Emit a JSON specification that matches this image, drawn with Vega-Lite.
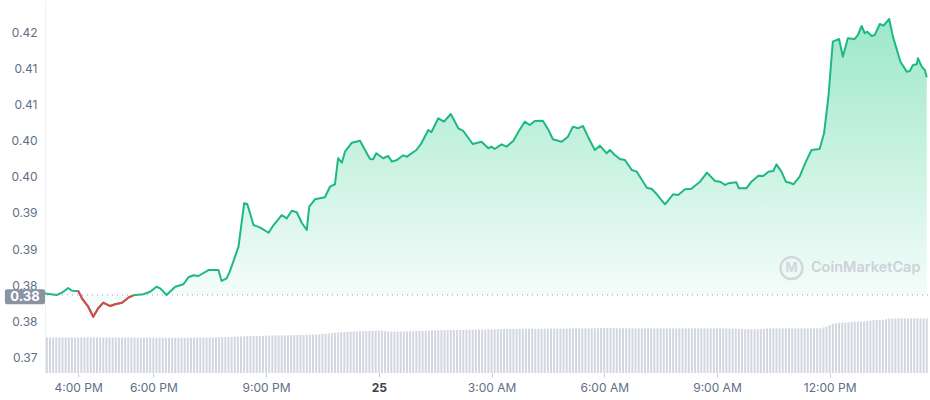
{
  "$schema": "https://vega.github.io/schema/vega-lite/v6.json",
  "width": 883,
  "height": 373,
  "autosize": "none",
  "padding": {"left": 45, "right": 2, "top": 0, "bottom": 27},
  "background": "#ffffff",
  "config": {"view": {"stroke": null}, "font": "Inter"},
  "datasets": {
    "price": [
      {"t":"2022-01-24T15:07","p":0.38132},{"t":"2022-01-24T15:26","p":0.38111},{"t":"2022-01-24T15:34","p":0.38143},{"t":"2022-01-24T15:44","p":0.38208},{"t":"2022-01-24T15:50","p":0.38171},
      {"t":"2022-01-24T16:00","p":0.38167},{"t":"2022-01-24T16:06","p":0.38065},{"t":"2022-01-24T16:16","p":0.37949},{"t":"2022-01-24T16:24","p":0.37810},{"t":"2022-01-24T16:32","p":0.37926},
      {"t":"2022-01-24T16:40","p":0.38004},{"t":"2022-01-24T16:51","p":0.37958},{"t":"2022-01-24T16:59","p":0.37982},{"t":"2022-01-24T17:10","p":0.38004},{"t":"2022-01-24T17:20","p":0.38074},
      {"t":"2022-01-24T17:28","p":0.38107},{"t":"2022-01-24T17:44","p":0.38121},{"t":"2022-01-24T17:55","p":0.38157},{"t":"2022-01-24T18:05","p":0.38226},{"t":"2022-01-24T18:11","p":0.38204},
      {"t":"2022-01-24T18:21","p":0.38111},{"t":"2022-01-24T18:35","p":0.38226},{"t":"2022-01-24T18:48","p":0.38260},{"t":"2022-01-24T18:56","p":0.38357},{"t":"2022-01-24T19:04","p":0.38385},
      {"t":"2022-01-24T19:12","p":0.38375},{"t":"2022-01-24T19:28","p":0.38458},{"t":"2022-01-24T19:44","p":0.38458},{"t":"2022-01-24T19:49","p":0.38306},{"t":"2022-01-24T19:57","p":0.38343},
      {"t":"2022-01-24T20:02","p":0.38435},{"t":"2022-01-24T20:16","p":0.38782},{"t":"2022-01-24T20:25","p":0.39385},{"t":"2022-01-24T20:30","p":0.39375},{"t":"2022-01-24T20:40","p":0.39083},
      {"t":"2022-01-24T20:50","p":0.39051},{"t":"2022-01-24T21:04","p":0.38976},{"t":"2022-01-24T21:12","p":0.39083},{"t":"2022-01-24T21:25","p":0.39222},{"t":"2022-01-24T21:33","p":0.39176},
      {"t":"2022-01-24T21:41","p":0.39282},{"t":"2022-01-24T21:49","p":0.39260},{"t":"2022-01-24T21:57","p":0.39115},{"t":"2022-01-24T22:05","p":0.39014},{"t":"2022-01-24T22:09","p":0.39338},
      {"t":"2022-01-24T22:18","p":0.39440},{"t":"2022-01-24T22:34","p":0.39468},{"t":"2022-01-24T22:42","p":0.39615},{"t":"2022-01-24T22:50","p":0.39649},{"t":"2022-01-24T22:55","p":0.40010},
      {"t":"2022-01-24T23:01","p":0.39949},{"t":"2022-01-24T23:06","p":0.40101},{"t":"2022-01-24T23:17","p":0.40226},{"t":"2022-01-24T23:30","p":0.40254},{"t":"2022-01-24T23:38","p":0.40125},
      {"t":"2022-01-24T23:46","p":0.40000},{"t":"2022-01-24T23:51","p":0.39996},{"t":"2022-01-24T23:56","p":0.40079},{"t":"2022-01-25T00:07","p":0.40010},{"t":"2022-01-25T00:15","p":0.40042},
      {"t":"2022-01-25T00:21","p":0.39963},{"t":"2022-01-25T00:29","p":0.39986},{"t":"2022-01-25T00:39","p":0.40051},{"t":"2022-01-25T00:45","p":0.40032},{"t":"2022-01-25T01:00","p":0.40125},
      {"t":"2022-01-25T01:08","p":0.40218},{"t":"2022-01-25T01:19","p":0.40403},{"t":"2022-01-25T01:24","p":0.40371},{"t":"2022-01-25T01:35","p":0.40565},{"t":"2022-01-25T01:44","p":0.40518},
      {"t":"2022-01-25T01:55","p":0.40625},{"t":"2022-01-25T02:07","p":0.40426},{"t":"2022-01-25T02:15","p":0.40389},{"t":"2022-01-25T02:30","p":0.40208},{"t":"2022-01-25T02:44","p":0.40240},
      {"t":"2022-01-25T02:55","p":0.40149},{"t":"2022-01-25T03:00","p":0.40171},{"t":"2022-01-25T03:05","p":0.40139},{"t":"2022-01-25T03:16","p":0.40204},{"t":"2022-01-25T03:24","p":0.40171},
      {"t":"2022-01-25T03:35","p":0.40254},{"t":"2022-01-25T03:43","p":0.40379},{"t":"2022-01-25T03:53","p":0.40518},{"t":"2022-01-25T04:01","p":0.40472},{"t":"2022-01-25T04:09","p":0.40528},
      {"t":"2022-01-25T04:22","p":0.40532},{"t":"2022-01-25T04:31","p":0.40403},{"t":"2022-01-25T04:38","p":0.40274},{"t":"2022-01-25T04:52","p":0.40240},{"t":"2022-01-25T05:02","p":0.40310},
      {"t":"2022-01-25T05:10","p":0.40449},{"t":"2022-01-25T05:18","p":0.40426},{"t":"2022-01-25T05:26","p":0.40458},{"t":"2022-01-25T05:34","p":0.40310},{"t":"2022-01-25T05:45","p":0.40125},
      {"t":"2022-01-25T05:53","p":0.40185},{"t":"2022-01-25T06:04","p":0.40079},{"t":"2022-01-25T06:09","p":0.40125},{"t":"2022-01-25T06:17","p":0.40056},{"t":"2022-01-25T06:25","p":0.40000},
      {"t":"2022-01-25T06:33","p":0.39986},{"t":"2022-01-25T06:44","p":0.39847},{"t":"2022-01-25T06:52","p":0.39824},{"t":"2022-01-25T07:08","p":0.39601},{"t":"2022-01-25T07:16","p":0.39583},
      {"t":"2022-01-25T07:24","p":0.39510},{"t":"2022-01-25T07:37","p":0.39371},{"t":"2022-01-25T07:50","p":0.39510},{"t":"2022-01-25T07:58","p":0.39500},{"t":"2022-01-25T08:09","p":0.39579},
      {"t":"2022-01-25T08:19","p":0.39588},{"t":"2022-01-25T08:33","p":0.39685},{"t":"2022-01-25T08:44","p":0.39810},{"t":"2022-01-25T08:57","p":0.39694},{"t":"2022-01-25T09:05","p":0.39685},
      {"t":"2022-01-25T09:13","p":0.39639},{"t":"2022-01-25T09:18","p":0.39663},{"t":"2022-01-25T09:31","p":0.39676},{"t":"2022-01-25T09:35","p":0.39593},{"t":"2022-01-25T09:47","p":0.39593},
      {"t":"2022-01-25T09:55","p":0.39685},{"t":"2022-01-25T10:06","p":0.39768},{"t":"2022-01-25T10:14","p":0.39764},{"t":"2022-01-25T10:22","p":0.39824},{"t":"2022-01-25T10:30","p":0.39833},
      {"t":"2022-01-25T10:35","p":0.39926},{"t":"2022-01-25T10:43","p":0.39824},{"t":"2022-01-25T10:50","p":0.39685},{"t":"2022-01-25T10:56","p":0.39671},{"t":"2022-01-25T11:02","p":0.39649},
      {"t":"2022-01-25T11:12","p":0.39754},{"t":"2022-01-25T11:22","p":0.39963},{"t":"2022-01-25T11:31","p":0.40125},{"t":"2022-01-25T11:44","p":0.40139},{"t":"2022-01-25T11:51","p":0.40357},
      {"t":"2022-01-25T11:58","p":0.40865},{"t":"2022-01-25T12:05","p":0.41629},{"t":"2022-01-25T12:15","p":0.41667},{"t":"2022-01-25T12:21","p":0.41421},{"t":"2022-01-25T12:29","p":0.41676},
      {"t":"2022-01-25T12:40","p":0.41667},{"t":"2022-01-25T12:45","p":0.41722},{"t":"2022-01-25T12:51","p":0.41847},{"t":"2022-01-25T12:56","p":0.41746},{"t":"2022-01-25T13:00","p":0.41768},
      {"t":"2022-01-25T13:07","p":0.41708},{"t":"2022-01-25T13:12","p":0.41722},{"t":"2022-01-25T13:20","p":0.41875},{"t":"2022-01-25T13:26","p":0.41851},{"t":"2022-01-25T13:35","p":0.41944},
      {"t":"2022-01-25T13:41","p":0.41699},{"t":"2022-01-25T13:53","p":0.41351},{"t":"2022-01-25T14:03","p":0.41213},{"t":"2022-01-25T14:08","p":0.41222},{"t":"2022-01-25T14:13","p":0.41306},
      {"t":"2022-01-25T14:19","p":0.41315},{"t":"2022-01-25T14:21","p":0.41399},{"t":"2022-01-25T14:27","p":0.41282},{"t":"2022-01-25T14:32","p":0.41236},{"t":"2022-01-25T14:35","p":0.41135}
    ],
    "vol": [
      {"t":"2022-01-24T15:10","v":35.6},{"t":"2022-01-24T15:15","v":35.6},{"t":"2022-01-24T15:20","v":35.5},{"t":"2022-01-24T15:25","v":35.5},{"t":"2022-01-24T15:30","v":35.6},{"t":"2022-01-24T15:35","v":35.6},{"t":"2022-01-24T15:40","v":35.7},{"t":"2022-01-24T15:45","v":35.6},{"t":"2022-01-24T15:50","v":35.5},{"t":"2022-01-24T15:55","v":35.5},
      {"t":"2022-01-24T16:00","v":35.4},{"t":"2022-01-24T16:05","v":35.5},{"t":"2022-01-24T16:10","v":35.5},{"t":"2022-01-24T16:15","v":35.6},{"t":"2022-01-24T16:20","v":35.6},{"t":"2022-01-24T16:25","v":35.5},{"t":"2022-01-24T16:30","v":35.5},{"t":"2022-01-24T16:35","v":35.4},{"t":"2022-01-24T16:40","v":35.5},{"t":"2022-01-24T16:45","v":35.5},{"t":"2022-01-24T16:50","v":35.6},{"t":"2022-01-24T16:55","v":35.6},
      {"t":"2022-01-24T17:00","v":35.5},{"t":"2022-01-24T17:05","v":35.5},{"t":"2022-01-24T17:10","v":35.4},{"t":"2022-01-24T17:15","v":35.4},{"t":"2022-01-24T17:20","v":35.5},{"t":"2022-01-24T17:25","v":35.5},{"t":"2022-01-24T17:30","v":35.4},{"t":"2022-01-24T17:35","v":35.3},{"t":"2022-01-24T17:40","v":35.3},{"t":"2022-01-24T17:45","v":35.4},{"t":"2022-01-24T17:50","v":35.4},{"t":"2022-01-24T17:55","v":35.3},
      {"t":"2022-01-24T18:00","v":35.2},{"t":"2022-01-24T18:05","v":35.2},{"t":"2022-01-24T18:10","v":35.3},{"t":"2022-01-24T18:15","v":35.3},{"t":"2022-01-24T18:20","v":35.3},{"t":"2022-01-24T18:25","v":35.2},{"t":"2022-01-24T18:30","v":35.2},{"t":"2022-01-24T18:35","v":35.3},{"t":"2022-01-24T18:40","v":35.3},{"t":"2022-01-24T18:45","v":35.3},{"t":"2022-01-24T18:50","v":35.2},{"t":"2022-01-24T18:55","v":35.2},
      {"t":"2022-01-24T19:00","v":35.3},{"t":"2022-01-24T19:05","v":35.3},{"t":"2022-01-24T19:10","v":35.4},{"t":"2022-01-24T19:15","v":35.4},{"t":"2022-01-24T19:20","v":35.4},{"t":"2022-01-24T19:25","v":35.5},{"t":"2022-01-24T19:30","v":35.5},{"t":"2022-01-24T19:35","v":35.6},{"t":"2022-01-24T19:40","v":35.6},{"t":"2022-01-24T19:45","v":35.7},{"t":"2022-01-24T19:50","v":35.8},{"t":"2022-01-24T19:55","v":35.8},
      {"t":"2022-01-24T20:00","v":36.0},{"t":"2022-01-24T20:05","v":36.1},{"t":"2022-01-24T20:10","v":36.2},{"t":"2022-01-24T20:15","v":36.4},{"t":"2022-01-24T20:20","v":36.6},{"t":"2022-01-24T20:25","v":36.8},{"t":"2022-01-24T20:30","v":36.9},{"t":"2022-01-24T20:35","v":37.0},{"t":"2022-01-24T20:40","v":37.0},{"t":"2022-01-24T20:45","v":37.1},{"t":"2022-01-24T20:50","v":37.1},{"t":"2022-01-24T20:55","v":37.2},
      {"t":"2022-01-24T21:00","v":37.3},{"t":"2022-01-24T21:05","v":37.4},{"t":"2022-01-24T21:10","v":37.5},{"t":"2022-01-24T21:15","v":37.5},{"t":"2022-01-24T21:20","v":37.6},{"t":"2022-01-24T21:25","v":37.6},{"t":"2022-01-24T21:30","v":37.7},{"t":"2022-01-24T21:35","v":37.8},{"t":"2022-01-24T21:40","v":37.8},{"t":"2022-01-24T21:45","v":37.9},{"t":"2022-01-24T21:50","v":37.9},{"t":"2022-01-24T21:55","v":38.0},
      {"t":"2022-01-24T22:00","v":38.0},{"t":"2022-01-24T22:05","v":38.2},{"t":"2022-01-24T22:10","v":38.4},{"t":"2022-01-24T22:15","v":38.5},{"t":"2022-01-24T22:20","v":38.6},{"t":"2022-01-24T22:25","v":38.8},{"t":"2022-01-24T22:30","v":39.0},{"t":"2022-01-24T22:35","v":39.3},{"t":"2022-01-24T22:40","v":39.6},{"t":"2022-01-24T22:45","v":39.9},{"t":"2022-01-24T22:50","v":40.2},{"t":"2022-01-24T22:55","v":40.5},
      {"t":"2022-01-24T23:00","v":40.8},{"t":"2022-01-24T23:05","v":41.0},{"t":"2022-01-24T23:10","v":41.2},{"t":"2022-01-24T23:15","v":41.4},{"t":"2022-01-24T23:20","v":41.5},{"t":"2022-01-24T23:25","v":41.7},{"t":"2022-01-24T23:30","v":41.8},{"t":"2022-01-24T23:35","v":41.9},{"t":"2022-01-24T23:40","v":42.0},{"t":"2022-01-24T23:45","v":42.1},{"t":"2022-01-24T23:50","v":42.2},{"t":"2022-01-24T23:55","v":42.3},
      {"t":"2022-01-25T00:00","v":42.3},{"t":"2022-01-25T00:05","v":42.3},{"t":"2022-01-25T00:10","v":42.0},{"t":"2022-01-25T00:15","v":41.6},{"t":"2022-01-25T00:20","v":41.4},{"t":"2022-01-25T00:25","v":41.3},{"t":"2022-01-25T00:30","v":41.3},{"t":"2022-01-25T00:35","v":41.4},{"t":"2022-01-25T00:40","v":41.5},{"t":"2022-01-25T00:45","v":41.6},{"t":"2022-01-25T00:50","v":41.8},{"t":"2022-01-25T00:55","v":41.9},
      {"t":"2022-01-25T01:00","v":42.0},{"t":"2022-01-25T01:05","v":42.1},{"t":"2022-01-25T01:10","v":42.2},{"t":"2022-01-25T01:15","v":42.3},{"t":"2022-01-25T01:20","v":42.4},{"t":"2022-01-25T01:25","v":42.5},{"t":"2022-01-25T01:30","v":42.6},{"t":"2022-01-25T01:35","v":42.7},{"t":"2022-01-25T01:40","v":42.8},{"t":"2022-01-25T01:45","v":42.9},{"t":"2022-01-25T01:50","v":43.0},{"t":"2022-01-25T01:55","v":43.0},
      {"t":"2022-01-25T02:00","v":43.0},{"t":"2022-01-25T02:05","v":43.0},{"t":"2022-01-25T02:10","v":43.1},{"t":"2022-01-25T02:15","v":43.1},{"t":"2022-01-25T02:20","v":43.2},{"t":"2022-01-25T02:25","v":43.2},{"t":"2022-01-25T02:30","v":43.3},{"t":"2022-01-25T02:35","v":43.3},{"t":"2022-01-25T02:40","v":43.3},{"t":"2022-01-25T02:45","v":43.4},{"t":"2022-01-25T02:50","v":43.4},{"t":"2022-01-25T02:55","v":43.5},
      {"t":"2022-01-25T03:00","v":43.6},{"t":"2022-01-25T03:05","v":43.7},{"t":"2022-01-25T03:10","v":43.8},{"t":"2022-01-25T03:15","v":43.9},{"t":"2022-01-25T03:20","v":44.0},{"t":"2022-01-25T03:25","v":44.0},{"t":"2022-01-25T03:30","v":44.1},{"t":"2022-01-25T03:35","v":44.1},{"t":"2022-01-25T03:40","v":44.2},{"t":"2022-01-25T03:45","v":44.2},{"t":"2022-01-25T03:50","v":44.2},{"t":"2022-01-25T03:55","v":44.3},
      {"t":"2022-01-25T04:00","v":44.3},{"t":"2022-01-25T04:05","v":44.3},{"t":"2022-01-25T04:10","v":44.2},{"t":"2022-01-25T04:15","v":44.2},{"t":"2022-01-25T04:20","v":44.2},{"t":"2022-01-25T04:25","v":44.3},{"t":"2022-01-25T04:30","v":44.3},{"t":"2022-01-25T04:35","v":44.4},{"t":"2022-01-25T04:40","v":44.4},{"t":"2022-01-25T04:45","v":44.4},{"t":"2022-01-25T04:50","v":44.5},{"t":"2022-01-25T04:55","v":44.5},
      {"t":"2022-01-25T05:00","v":44.5},{"t":"2022-01-25T05:05","v":44.6},{"t":"2022-01-25T05:10","v":44.6},{"t":"2022-01-25T05:15","v":44.6},{"t":"2022-01-25T05:20","v":44.6},{"t":"2022-01-25T05:25","v":44.7},{"t":"2022-01-25T05:30","v":44.7},{"t":"2022-01-25T05:35","v":44.7},{"t":"2022-01-25T05:40","v":44.8},{"t":"2022-01-25T05:45","v":44.8},{"t":"2022-01-25T05:50","v":44.9},{"t":"2022-01-25T05:55","v":45.0},
      {"t":"2022-01-25T06:00","v":45.0},{"t":"2022-01-25T06:05","v":45.0},{"t":"2022-01-25T06:10","v":45.0},{"t":"2022-01-25T06:15","v":44.9},{"t":"2022-01-25T06:20","v":44.9},{"t":"2022-01-25T06:25","v":44.8},{"t":"2022-01-25T06:30","v":44.8},{"t":"2022-01-25T06:35","v":44.8},{"t":"2022-01-25T06:40","v":44.8},{"t":"2022-01-25T06:45","v":44.7},{"t":"2022-01-25T06:50","v":44.7},{"t":"2022-01-25T06:55","v":44.7},
      {"t":"2022-01-25T07:00","v":44.7},{"t":"2022-01-25T07:05","v":44.7},{"t":"2022-01-25T07:10","v":44.7},{"t":"2022-01-25T07:15","v":44.7},{"t":"2022-01-25T07:20","v":44.7},{"t":"2022-01-25T07:25","v":44.7},{"t":"2022-01-25T07:30","v":44.7},{"t":"2022-01-25T07:35","v":44.7},{"t":"2022-01-25T07:40","v":44.6},{"t":"2022-01-25T07:45","v":44.6},{"t":"2022-01-25T07:50","v":44.6},{"t":"2022-01-25T07:55","v":44.6},
      {"t":"2022-01-25T08:00","v":44.6},{"t":"2022-01-25T08:05","v":44.7},{"t":"2022-01-25T08:10","v":44.7},{"t":"2022-01-25T08:15","v":44.7},{"t":"2022-01-25T08:20","v":44.7},{"t":"2022-01-25T08:25","v":44.7},{"t":"2022-01-25T08:30","v":44.7},{"t":"2022-01-25T08:35","v":44.7},{"t":"2022-01-25T08:40","v":44.7},{"t":"2022-01-25T08:45","v":44.7},{"t":"2022-01-25T08:50","v":44.7},{"t":"2022-01-25T08:55","v":44.7},
      {"t":"2022-01-25T09:00","v":44.7},{"t":"2022-01-25T09:05","v":44.7},{"t":"2022-01-25T09:10","v":44.7},{"t":"2022-01-25T09:15","v":44.6},{"t":"2022-01-25T09:20","v":44.6},{"t":"2022-01-25T09:25","v":44.5},{"t":"2022-01-25T09:30","v":44.3},{"t":"2022-01-25T09:35","v":44.0},{"t":"2022-01-25T09:40","v":43.8},{"t":"2022-01-25T09:45","v":43.7},{"t":"2022-01-25T09:50","v":43.7},{"t":"2022-01-25T09:55","v":43.7},
      {"t":"2022-01-25T10:00","v":43.8},{"t":"2022-01-25T10:05","v":43.9},{"t":"2022-01-25T10:10","v":44.0},{"t":"2022-01-25T10:15","v":44.2},{"t":"2022-01-25T10:20","v":44.5},{"t":"2022-01-25T10:25","v":44.7},{"t":"2022-01-25T10:30","v":44.7},{"t":"2022-01-25T10:35","v":44.7},{"t":"2022-01-25T10:40","v":44.7},{"t":"2022-01-25T10:45","v":44.7},{"t":"2022-01-25T10:50","v":44.7},{"t":"2022-01-25T10:55","v":44.7},
      {"t":"2022-01-25T11:00","v":44.7},{"t":"2022-01-25T11:05","v":44.7},{"t":"2022-01-25T11:10","v":44.7},{"t":"2022-01-25T11:15","v":44.7},{"t":"2022-01-25T11:20","v":44.7},{"t":"2022-01-25T11:25","v":44.7},{"t":"2022-01-25T11:30","v":44.7},{"t":"2022-01-25T11:35","v":44.7},{"t":"2022-01-25T11:40","v":44.7},{"t":"2022-01-25T11:45","v":44.8},{"t":"2022-01-25T11:50","v":45.5},{"t":"2022-01-25T11:55","v":46.5},
      {"t":"2022-01-25T12:00","v":47.8},{"t":"2022-01-25T12:05","v":49.2},{"t":"2022-01-25T12:10","v":49.8},{"t":"2022-01-25T12:15","v":50.2},{"t":"2022-01-25T12:20","v":50.3},{"t":"2022-01-25T12:25","v":50.5},{"t":"2022-01-25T12:30","v":50.8},{"t":"2022-01-25T12:35","v":51.2},{"t":"2022-01-25T12:40","v":51.4},{"t":"2022-01-25T12:45","v":51.5},{"t":"2022-01-25T12:50","v":51.5},{"t":"2022-01-25T12:55","v":51.6},
      {"t":"2022-01-25T13:00","v":52.0},{"t":"2022-01-25T13:05","v":52.4},{"t":"2022-01-25T13:10","v":52.8},{"t":"2022-01-25T13:15","v":53.0},{"t":"2022-01-25T13:20","v":53.0},{"t":"2022-01-25T13:25","v":53.2},{"t":"2022-01-25T13:30","v":53.8},{"t":"2022-01-25T13:35","v":54.3},{"t":"2022-01-25T13:40","v":54.5},{"t":"2022-01-25T13:45","v":54.6},{"t":"2022-01-25T13:50","v":54.7},{"t":"2022-01-25T13:55","v":54.7},
      {"t":"2022-01-25T14:00","v":54.7},{"t":"2022-01-25T14:05","v":54.7},{"t":"2022-01-25T14:10","v":54.7},{"t":"2022-01-25T14:15","v":54.7},{"t":"2022-01-25T14:20","v":54.7},{"t":"2022-01-25T14:25","v":54.7},{"t":"2022-01-25T14:30","v":54.7},{"t":"2022-01-25T14:35","v":54.7}
    ]
  },
  "layer": [
    {
      "data": {"name": "vol"},
      "mark": {"type": "bar", "width": 2, "color": "#d2d7df"},
      "encoding": {
        "x": {"field": "t", "type": "temporal", "scale": {"domain": [{"year":2022,"month":1,"date":24,"hours":15,"minutes":7},{"year":2022,"month":1,"date":25,"hours":14,"minutes":37}], "nice": false, "padding": 0},
          "axis": {"title": null, "grid": false, "domain": false, "tickSize": 4, "tickColor": "#c5cad3", "labelPadding": 5, "labelFontSize": 12, "labelFont": "Inter",
            "labelColor": {"condition": {"test": "hours(datum.value) === 0", "value": "#3b4350"}, "value": "#616e85"},
            "labelFontWeight": {"condition": {"test": "hours(datum.value) === 0", "value": 700}, "value": 400},
            "values": [{"year":2022,"month":1,"date":24,"hours":16},{"year":2022,"month":1,"date":24,"hours":18},{"year":2022,"month":1,"date":24,"hours":21},{"year":2022,"month":1,"date":25,"hours":0},{"year":2022,"month":1,"date":25,"hours":3},{"year":2022,"month":1,"date":25,"hours":6},{"year":2022,"month":1,"date":25,"hours":9},{"year":2022,"month":1,"date":25,"hours":12}],
            "labelExpr": "hours(datum.value) === 0 ? timeFormat(datum.value, '%-d') : timeFormat(datum.value, '%-I:%M %p')"}},
        "y": {"field": "v", "type": "quantitative", "scale": {"domain": [0, 373], "nice": false}, "axis": null}
      }
    },
    {
      "layer": [
        {
          "data": {"name": "price"},
          "mark": {"type": "area", "interpolate": "linear", "color": {"gradient": "linear", "x1": 0, "y1": 0, "x2": 0, "y2": 1, "stops": [{"offset": 0, "color": "rgba(22,199,132,0.42)"}, {"offset": 1, "color": "rgba(22,199,132,0.02)"}]}},
          "encoding": {
            "x": {"field": "t", "type": "temporal"},
            "y": {"field": "p", "type": "quantitative", "scale": {"domain": [0.37028, 0.42208], "nice": false, "zero": false},
              "axis": {"title": null, "ticks": false, "labelPadding": 8, "gridColor": "#eef0f3", "domainColor": "#eef0f3", "labelColor": "#616e85", "labelFontSize": 12, "labelFont": "Inter",
                "values": [0.3725, 0.3775, 0.3825, 0.3875, 0.3925, 0.3975, 0.4025, 0.4075, 0.4125, 0.4175],
                "labelExpr": "format(datum.value - 0.0001, '.2f')"}},
            "y2": {"datum": 0.38111}
          }
        },
        {
          "data": {"name": "price"},
          "mark": {"type": "line", "color": "#1eb980", "strokeWidth": 2, "strokeJoin": "round"},
          "encoding": {
            "x": {"field": "t", "type": "temporal"},
            "y": {"field": "p", "type": "quantitative"}
          }
        },
        {
          "data": {"name": "price"},
          "transform": [{"filter": {"field": "t", "range": [{"year":2022,"month":1,"date":24,"hours":16,"minutes":0}, {"year":2022,"month":1,"date":24,"hours":17,"minutes":28}]}}],
          "mark": {"type": "line", "color": "#e0434b", "strokeWidth": 2, "strokeJoin": "round"},
          "encoding": {
            "x": {"field": "t", "type": "temporal"},
            "y": {"field": "p", "type": "quantitative"}
          }
        },
        {
          "data": {"values": [{}]},
          "mark": {"type": "rule", "color": "#9aa3b2", "strokeDash": [1, 4], "strokeWidth": 1},
          "encoding": {"y": {"datum": 0.38111}}
        },
        {
          "data": {"values": [{}]},
          "mark": {"type": "rect", "color": "#8b93a3", "cornerRadius": 2},
          "encoding": {
            "x": {"datum": {"year":2022,"month":1,"date":24,"hours":14,"minutes":3}, "type": "temporal"},
            "x2": {"datum": {"year":2022,"month":1,"date":24,"hours":15,"minutes":7}},
            "y": {"datum": 0.38190},
            "y2": {"datum": 0.37982}
          }
        },
        {
          "data": {"values": [{}]},
          "mark": {"type": "text", "text": "0.38", "color": "#ffffff", "fontWeight": 700, "fontSize": 13, "align": "center", "baseline": "middle", "font": "Inter"},
          "encoding": {
            "x": {"datum": {"year":2022,"month":1,"date":24,"hours":14,"minutes":35}, "type": "temporal"},
            "y": {"datum": 0.38086}
          }
        },
        {
          "data": {"values": [{}]},
          "mark": {"type": "point", "shape": "circle", "filled": false, "size": 484, "strokeWidth": 2.5, "color": "#d3d7dd", "opacity": 1},
          "encoding": {
            "x": {"datum": {"year":2022,"month":1,"date":25,"hours":10,"minutes":59}, "type": "temporal"},
            "y": {"datum": 0.38486}
          }
        },
        {
          "data": {"values": [{}]},
          "mark": {"type": "text", "text": "M", "color": "#d3d7dd", "fontWeight": 700, "fontSize": 13, "align": "center", "baseline": "middle", "font": "Inter"},
          "encoding": {
            "x": {"datum": {"year":2022,"month":1,"date":25,"hours":10,"minutes":59}, "type": "temporal"},
            "y": {"datum": 0.38486}
          }
        },
        {
          "data": {"values": [{}]},
          "mark": {"type": "text", "text": "CoinMarketCap", "color": "#cdd1d8", "fontWeight": 600, "fontSize": 14.5, "align": "left", "baseline": "middle", "font": "Inter"},
          "encoding": {
            "x": {"datum": {"year":2022,"month":1,"date":25,"hours":11,"minutes":30}, "type": "temporal"},
            "y": {"datum": 0.38486}
          }
        }
      ]
    }
  ],
  "resolve": {"scale": {"y": "independent"}}
}
